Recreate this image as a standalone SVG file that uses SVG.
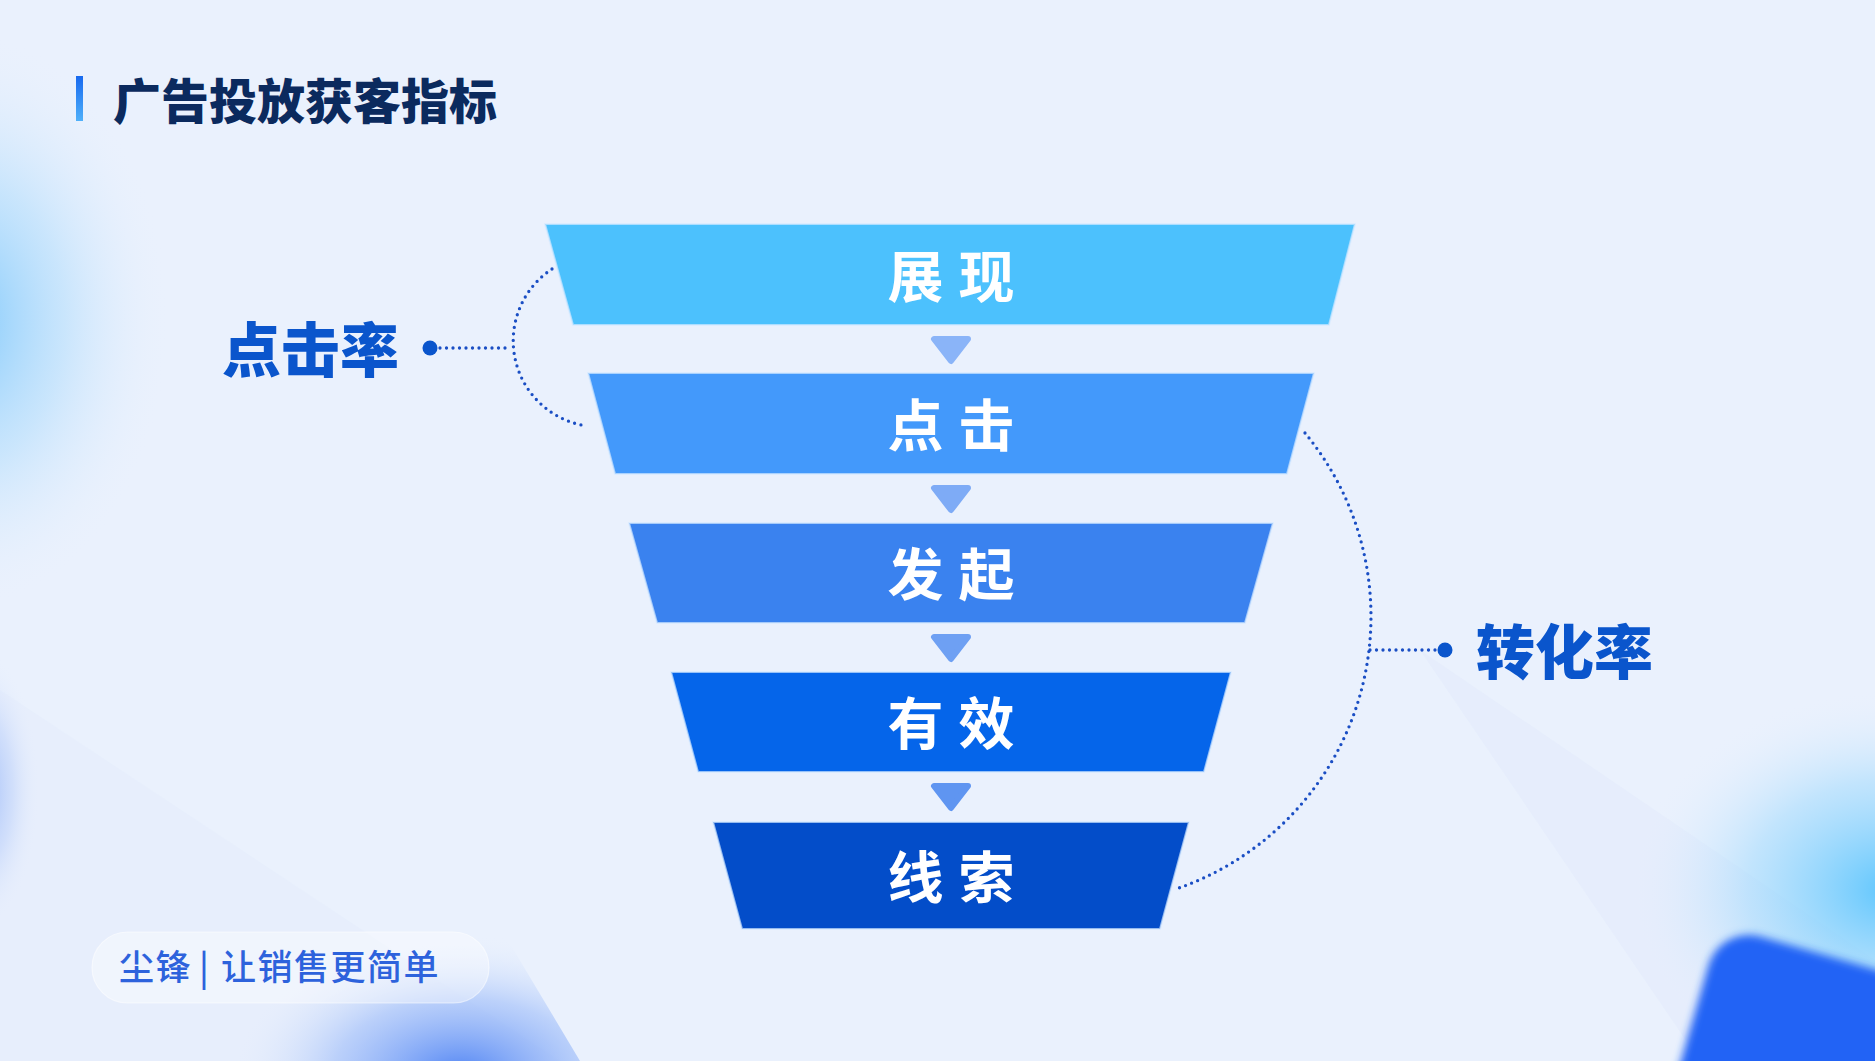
<svg xmlns="http://www.w3.org/2000/svg" width="1875" height="1061" viewBox="0 0 1875 1061">
<style>
.seg{stroke:#d6eaff;stroke-opacity:0.7;stroke-width:2;stroke-linejoin:round}
.lbl{font-family:"Noto Sans CJK SC","Noto Sans",sans-serif;font-weight:700;font-size:56px;fill:#ffffff;letter-spacing:15px;text-anchor:middle}
.rate{font-family:"Noto Sans CJK SC","Noto Sans",sans-serif;font-weight:900;font-size:59px;fill:#0a55cc}
.dots{fill:none;stroke:#1a4ec4;stroke-width:3.3;stroke-dasharray:0 6.5;stroke-linecap:round}
.arw{stroke-width:6;stroke-linejoin:round}
</style>
<defs>
<linearGradient id="bar" x1="0" y1="0" x2="0" y2="1">
<stop offset="0" stop-color="#1769ef"/><stop offset="1" stop-color="#4fb0fa"/>
</linearGradient>
<radialGradient id="gLeft" cx="0.5" cy="0.5" r="0.5">
<stop offset="0" stop-color="#79c6fb" stop-opacity="0.95"/><stop offset="0.5" stop-color="#a9dafc" stop-opacity="0.5"/><stop offset="1" stop-color="#eaf1fd" stop-opacity="0"/>
</radialGradient>
<radialGradient id="gBL" cx="0.5" cy="0.5" r="0.5">
<stop offset="0" stop-color="#5084f4" stop-opacity="1"/><stop offset="0.55" stop-color="#9dbcf9" stop-opacity="0.6"/><stop offset="1" stop-color="#eaf1fd" stop-opacity="0"/>
</radialGradient>
<radialGradient id="gBR" cx="0.5" cy="0.5" r="0.5">
<stop offset="0" stop-color="#5ec6fd" stop-opacity="1"/><stop offset="0.55" stop-color="#9ad8fd" stop-opacity="0.5"/><stop offset="1" stop-color="#eaf1fd" stop-opacity="0"/>
</radialGradient>
<clipPath id="clipBL"><polygon points="0,640 460,860 580,1061 0,1061"/></clipPath>
<filter id="blur4" x="-20%" y="-20%" width="140%" height="140%"><feGaussianBlur stdDeviation="4"/></filter>
</defs>

<g id="background">
<rect width="1875" height="1061" fill="#eaf1fd"/>
<polygon points="1420,650 1875,960 1875,1061 1700,1061" fill="#e2eafc" opacity="0.55"/>
<polygon points="0,690 560,1061 0,1061" fill="#e4edfc" opacity="0.6"/>
<ellipse cx="-40" cy="320" rx="210" ry="290" fill="url(#gLeft)"/>
<ellipse cx="-20" cy="790" rx="60" ry="140" fill="url(#gBL)" opacity="0.5"/>
<g clip-path="url(#clipBL)">
<ellipse cx="460" cy="1075" rx="230" ry="140" fill="url(#gBL)"/>
</g>
<ellipse cx="1890" cy="890" rx="260" ry="200" fill="url(#gBR)"/>
<rect x="1720" y="925" width="260" height="220" rx="42" fill="#2463f5" transform="rotate(16 1720 925)" filter="url(#blur4)"/>
</g>

<g id="title">
<rect x="76" y="76" width="7" height="45" fill="url(#bar)"/>
<text x="113" y="119" font-family="'Noto Sans CJK SC','Noto Sans',sans-serif" font-weight="900" font-size="48" fill="#0b2a5e">广告投放获客指标</text>
</g>

<g id="connectors">
<path class="dots" d="M 552 269 A 86 86 0 0 0 587 426"/>
<line class="dots" x1="440" y1="348" x2="511" y2="348"/>
<path class="dots" d="M 1305 433 A 288 288 0 0 1 1176 889"/>
<line class="dots" x1="1370" y1="650" x2="1436" y2="650"/>
<polygon class="arw" points="934,339 968,339 951,361" fill="#8ab4f8" stroke="#8ab4f8"/>
<polygon class="arw" points="934,488 968,488 951,510" fill="#7eabf6" stroke="#7eabf6"/>
<polygon class="arw" points="934,637 968,637 951,659" fill="#6ea0f3" stroke="#6ea0f3"/>
<polygon class="arw" points="934,786 968,786 951,808" fill="#5f95f1" stroke="#5f95f1"/>
</g>

<g id="node-zhanxian">
<polygon class="seg" points="545,224 1355,224 1329,325 573,325" fill="#4cc1fd"/>
<text class="lbl" x="958.5" y="297">展现</text>
</g>
<g id="node-dianji">
<polygon class="seg" points="588,373 1314,373 1287,474 615,474" fill="#4399fb"/>
<text class="lbl" x="958.5" y="446">点击</text>
</g>
<g id="node-faqi">
<polygon class="seg" points="629,523 1273,523 1245,623 657,623" fill="#3a82ef"/>
<text class="lbl" x="958.5" y="595">发起</text>
</g>
<g id="node-youxiao">
<polygon class="seg" points="671,672 1231,672 1204,772 698,772" fill="#0565ea"/>
<text class="lbl" x="958.5" y="744">有效</text>
</g>
<g id="node-xiansuo">
<polygon class="seg" points="713,822 1189,822 1160,929 742,929" fill="#034dc9"/>
<text class="lbl" x="958.5" y="898">线索</text>
</g>

<g id="node-dianjilv">
<circle cx="430" cy="348" r="7.5" fill="#0a55cc"/>
<text class="rate" x="222" y="372">点击率</text>
</g>
<g id="node-zhuanhualv">
<circle cx="1445" cy="650" r="7.5" fill="#0a55cc"/>
<text class="rate" x="1476" y="674">转化率</text>
</g>

<g id="footer">
<rect x="92" y="932" width="397" height="71" rx="35.5" fill="#ffffff" fill-opacity="0.4" stroke="#ffffff" stroke-opacity="0.55" stroke-width="1.2"/>
<text font-family="'Noto Sans CJK SC','Noto Sans',sans-serif" font-weight="500" font-size="35" fill="#2d62dc" letter-spacing="1.5" y="980"><tspan x="119">尘锋</tspan><tspan x="199">|</tspan><tspan x="221">让销售更简单</tspan></text>
</g>
</svg>
